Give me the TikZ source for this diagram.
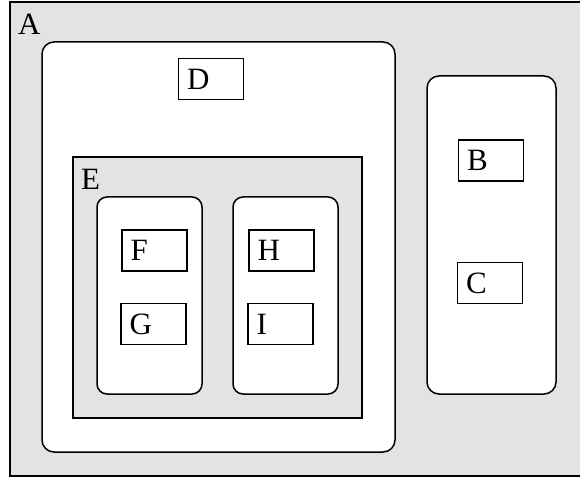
\documentclass[tikz,border=0pt]{standalone}
\usepackage{fontspec}
\setmainfont{Liberation Serif}
\definecolor{stip}{gray}{0.89}
\begin{document}
\begin{tikzpicture}[x=1pt,y=-1pt,
  every node/.style={inner sep=0pt, outer sep=0pt, font=\fontsize{31}{33}\selectfont},
  frame/.style={draw, line width=1.5pt, rectangle},
  lbox/.style={frame, fill=white, minimum width=65pt, minimum height=41pt,
     text width=48pt, inner xsep=8.5pt, align=left},
  roundbox/.style={frame, fill=white, rounded corners=#1},
  lab/.style={anchor=base west}]
\useasboundingbox (0,0) rectangle (580,478);
\node[frame, fill=stip, minimum width=572pt, minimum height=474pt] (A) at (296,239) {};
\node[roundbox=12pt, minimum width=353pt, minimum height=410pt] (Dbig) at (218.5,247) {};
\node[frame, fill=stip, minimum width=289pt, minimum height=261pt] (E) at (217.5,287.5) {};
\node[roundbox=10pt, minimum width=105pt, minimum height=197pt] (FG) at (149.5,295.5) {};
\node[roundbox=10pt, minimum width=105pt, minimum height=197pt] (HI) at (285.5,295.5) {};
\node[roundbox=12pt, minimum width=129pt, minimum height=318pt] (BC) at (491.5,235) {};
\node[lab] (Alab) at (18,35) {A};
\node[lab] (Elab) at (81,190) {E};
\node[lbox] (D) at (211,79) {D};
\node[lbox] (F) at (154.5,250.5) {F};
\node[lbox] (G) at (153.5,324) {G};
\node[lbox] (H) at (281.5,250.5) {H};
\node[lbox] (I) at (280.5,324) {I};
\node[lbox] (B) at (491,160.5) {B};
\node[lbox] (C) at (490,283) {C};
\end{tikzpicture}
\end{document}
